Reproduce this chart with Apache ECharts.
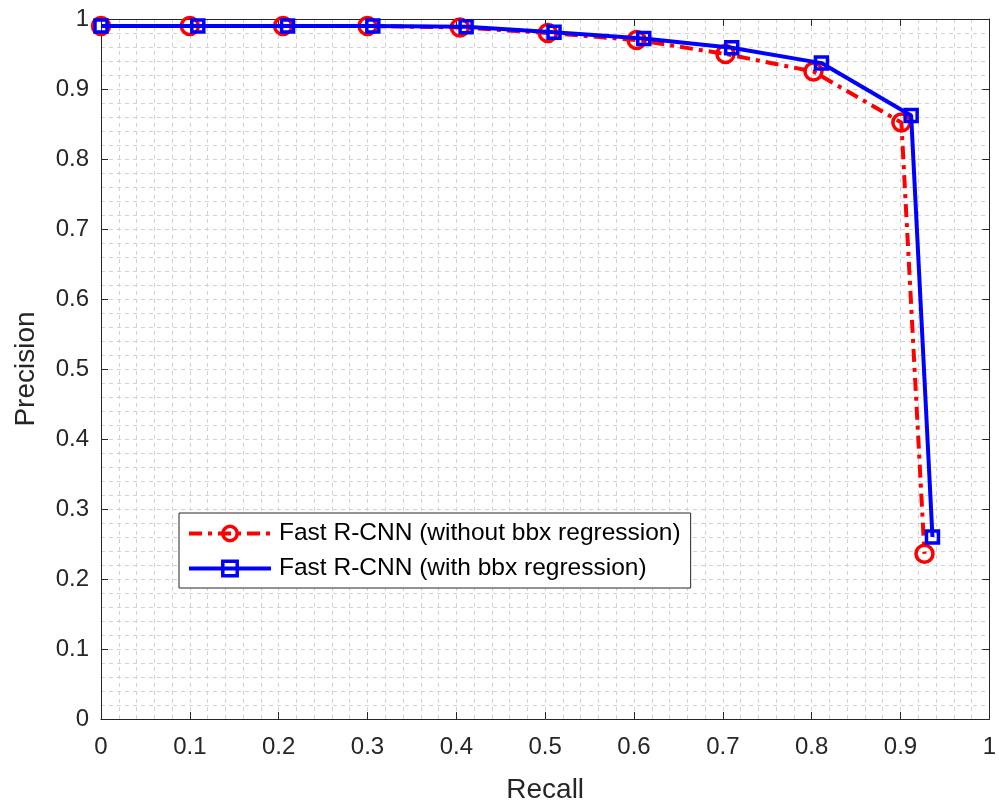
<!DOCTYPE html>
<html>
<head>
<meta charset="utf-8">
<script src="https://cdn.jsdelivr.net/npm/echarts@6/dist/echarts.min.js"></script>
<style>
html,body{margin:0;padding:0;background:#fff;}
#chart{width:999px;height:809px;}
</style>
</head>
<body>
<div id="chart"></div>
<script>
var seriesNames = ['Fast R-CNN (without bbx regression)', 'Fast R-CNN (with bbx regression)'];
var recallNoReg = [0.0, 0.1, 0.205, 0.300, 0.404, 0.503, 0.603, 0.703, 0.802, 0.901, 0.927];
var precisionNoReg = [0.990, 0.990, 0.990, 0.990, 0.988, 0.980, 0.970, 0.950, 0.925, 0.852, 0.236];
var recallReg = [0.0, 0.109, 0.210, 0.306, 0.411, 0.510, 0.611, 0.710, 0.811, 0.912, 0.936];
var precisionReg = [0.990, 0.990, 0.990, 0.990, 0.989, 0.981, 0.972, 0.959, 0.937, 0.862, 0.260];
var xTickStep = 0.1;
var yTickStep = 0.1;

function zip(a, b) { return a.map(function (v, i) { return [v, b[i]]; }); }
function fmt(v) { return String(+(+v).toFixed(1)); }

var axisColor = '#262626';
var gridLine = { color: '#d2d2d2', width: 1, type: [4, 4] };
var font = 'Liberation Sans, Arial, Helvetica, sans-serif';

var chart = echarts.init(document.getElementById('chart'), null, { renderer: 'canvas' });
chart.setOption({
  backgroundColor: '#fff',
  animation: false,
  grid: { left: 101, right: 8, top: 19, bottom: 86, containLabel: false },
  xAxis: [{
    type: 'value', min: 0, max: 1, interval: xTickStep, position: 'bottom',
    name: 'Recall', nameLocation: 'middle', nameGap: 57,
    nameTextStyle: { fontSize: 28, color: axisColor, fontFamily: font },
    axisLine: { show: true, onZero: false, lineStyle: { color: axisColor, width: 1 } },
    axisTick: { show: true, inside: true, length: 7, lineStyle: { color: axisColor } },
    axisLabel: { formatter: fmt, fontSize: 24, color: axisColor, margin: 16, fontFamily: font },
    splitLine: { show: true, lineStyle: gridLine },
    minorTick: { show: false, splitNumber: 5 },
    minorSplitLine: { show: true, lineStyle: gridLine }
  }, {
    type: 'value', min: 0, max: 1, interval: xTickStep, position: 'top',
    axisLine: { show: true, onZero: false, lineStyle: { color: axisColor, width: 1 } },
    axisTick: { show: true, inside: true, length: 7, lineStyle: { color: axisColor } },
    axisLabel: { show: false }, splitLine: { show: false }
  }],
  yAxis: [{
    type: 'value', min: 0, max: 1, interval: yTickStep, position: 'left',
    name: 'Precision', nameLocation: 'middle', nameGap: 61, nameRotate: 90,
    nameTextStyle: { fontSize: 28, color: axisColor, fontFamily: font },
    axisLine: { show: true, onZero: false, lineStyle: { color: axisColor, width: 1 } },
    axisTick: { show: true, inside: true, length: 7, lineStyle: { color: axisColor } },
    axisLabel: { formatter: fmt, fontSize: 24, color: axisColor, margin: 12, fontFamily: font },
    splitLine: { show: true, lineStyle: gridLine },
    minorTick: { show: false, splitNumber: 5 },
    minorSplitLine: { show: true, lineStyle: gridLine }
  }, {
    type: 'value', min: 0, max: 1, interval: yTickStep, position: 'right',
    axisLine: { show: true, onZero: false, lineStyle: { color: axisColor, width: 1 } },
    axisTick: { show: true, inside: true, length: 7, lineStyle: { color: axisColor } },
    axisLabel: { show: false }, splitLine: { show: false }
  }],
  legend: {
    orient: 'vertical', left: 179, top: 513,
    data: seriesNames,
    itemWidth: 82, itemHeight: 18, itemGap: 10,
    padding: [8, 10, 7, 8],
    backgroundColor: '#fff',
    borderColor: axisColor, borderWidth: 1,
    lineStyle: { width: 4 },
    itemStyle: { borderWidth: 3.5 },
    textStyle: { fontSize: 24.5, color: '#000', fontFamily: font, lineHeight: 24, padding: [0, 0, 0, 3] }
  },
  series: [{
    name: seriesNames[0], type: 'line',
    data: zip(recallNoReg, precisionNoReg),
    symbol: 'circle', symbolSize: 17,
    lineStyle: { color: '#ff0000', width: 4, type: [13, 6, 4, 6] },
    itemStyle: { color: 'rgba(255,255,255,0)', borderColor: '#ff0000', borderWidth: 3.5 },
    z: 2
  }, {
    name: seriesNames[1], type: 'line',
    data: zip(recallReg, precisionReg),
    symbol: 'rect', symbolSize: 12,
    lineStyle: { color: '#0000ff', width: 4 },
    itemStyle: { color: 'rgba(255,255,255,0)', borderColor: '#0000ff', borderWidth: 3.5 },
    z: 3
  }]
});
</script>
</body>
</html>
